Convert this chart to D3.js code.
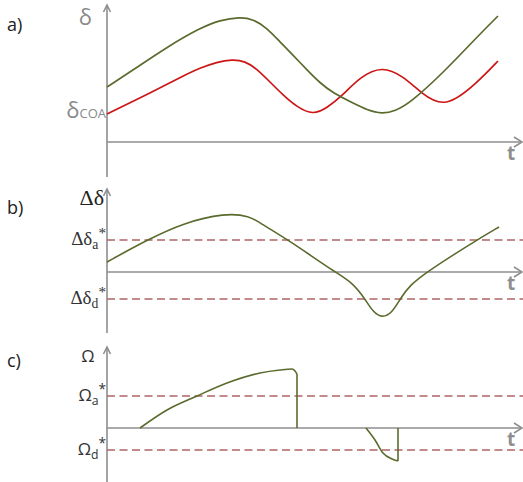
<!DOCTYPE html>
<html>
<head>
<meta charset="utf-8">
<script src="https://cdn.jsdelivr.net/npm/d3@7"></script>
<style>
  html, body { margin: 0; padding: 0; background: #fff; }
  svg { display: block; }
</style>
</head>
<body>
<svg id="chart" width="523" height="482"></svg>
<script>
// ---------------- DATA ----------------
// Panel a: delta(t)
const aGreenT = [0, 0.65, 1.5, 2.325, 2.825, 3.325, 3.65, 4.0, 4.325, 4.65, 5.0, 5.325, 5.65, 6.15, 6.5, 6.875, 7.2, 7.575, 8.4, 9.25, 9.775];
const aGreenV = [5.5, 7.2, 9.5, 11.4, 12.2, 12.5, 12.3, 11.4, 10.0, 8.7, 7.2, 5.9, 4.9, 3.9, 3.2, 2.8, 3.1, 3.9, 6.9, 10.5, 12.6];
const aRedT   = [0, 1.075, 1.9, 2.325, 2.75, 3.125, 3.45, 3.75, 4.075, 4.4, 4.75, 5.15, 5.5, 5.9, 6.325, 6.875, 7.4, 7.85, 8.45, 9.25, 9.775];
const aRedV   = [2.8, 4.9, 6.6, 7.4, 8.0, 8.25, 8.1, 7.3, 6.0, 4.7, 3.5, 2.7, 3.4, 4.7, 6.5, 7.6, 6.6, 4.9, 3.3, 5.9, 8.1];
// Panel b: delta difference
const bT = [0, 1.0, 1.9, 2.95, 3.575, 3.825, 4.525, 5.075, 5.7, 6.15, 6.45, 6.65, 6.875, 7.125, 7.325, 7.575, 8.0, 8.65, 9.25, 9.8];
const bV = [1.0, 3.2, 4.9, 5.9, 5.6, 4.9, 3.2, 1.7, 0, -1.1, -2.7, -4.0, -4.6, -4.1, -2.7, -1.3, 0, 1.7, 3.2, 4.5];
// Panel c: Omega, two pieces
const c1T = [0.825, 1.5, 2.25, 3.0, 3.825, 4.325, 4.625, 4.7, 4.75];
const c1V = [0, 1.8, 3.2, 4.5, 5.5, 5.8, 5.9, 5.7, 5.4];
const c1DropT = [4.75, 4.75];
const c1DropV = [5.4, 0];
const c2T = [6.475, 6.7, 6.9, 7.125, 7.275];
const c2V = [0, -1.2, -2.5, -3.1, -3.3];
const c2RiseT = [7.275, 7.275];
const c2RiseV = [-3.3, 0];
// thresholds
const bThresh = [3.2, -2.7];
const cThresh = [3.2, -2.2];
const aCOA = 2.9;
const aTop = 12.4;
// labels
const panelLabels = ["a)", "b)", "c)"];
const axisT = "t";

// ---------------- LAYOUT ----------------
const svg = d3.select("#chart");
const x = d3.scaleLinear().domain([0, 10]).range([107, 507]);
const xEnd = 523;
const axisColor = "#8e8e8e";
const green = "#5a6b2e";
const red = "#cc1616";
const dashColor = "#b06464";

const panels = [
  { zeroY: 142, topY: 5, bottomY: 177 },
  { zeroY: 272, topY: 189, bottomY: 333 },
  { zeroY: 428, topY: 347, bottomY: 482 }
];
const yScales = panels.map(p => d3.scaleLinear().domain([0, 10]).range([p.zeroY, p.zeroY - 100]));

const zip = (ts, vs) => ts.map((t, i) => [t, vs[i]]);
function lineFor(ys, curve) {
  return d3.line().x(d => x(d[0])).y(d => ys(d[1])).curve(curve);
}

// axes
panels.forEach((p, i) => {
  const g = svg.append("g");
  g.append("line").attr("x1", x(0)).attr("x2", x(0)).attr("y1", p.topY + 1).attr("y2", p.bottomY)
    .attr("stroke", axisColor).attr("stroke-width", 1.6);
  g.append("path")
    .attr("d", `M${x(0) - 3.5},${p.topY + 7} L${x(0)},${p.topY} L${x(0) + 3.5},${p.topY + 7}`)
    .attr("fill", "none").attr("stroke", axisColor).attr("stroke-width", 1.6);
  g.append("line").attr("x1", x(0)).attr("x2", xEnd - 1).attr("y1", p.zeroY).attr("y2", p.zeroY)
    .attr("stroke", axisColor).attr("stroke-width", 1.6);
  g.append("path")
    .attr("d", `M${xEnd - 9},${p.zeroY - 5} L${xEnd - 1},${p.zeroY} L${xEnd - 9},${p.zeroY + 5}`)
    .attr("fill", "none").attr("stroke", axisColor).attr("stroke-width", 1.6);
  g.append("text").attr("x", 511).attr("y", p.zeroY + 18).attr("text-anchor", "middle")
    .attr("font-family", "Open Sans, sans-serif").attr("font-weight", "bold")
    .attr("font-size", 19).attr("fill", axisColor).text(axisT);
  svg.append("text").attr("x", 7).attr("y", [31, 214, 367][i])
    .attr("font-family", "Open Sans, sans-serif").attr("font-size", 18).attr("fill", "#222")
    .text(panelLabels[i]);
});

// thresholds (dashed)
function dashed(ys, v) {
  svg.append("line").attr("x1", x(0)).attr("x2", xEnd).attr("y1", ys(v)).attr("y2", ys(v))
    .attr("stroke", dashColor).attr("stroke-width", 1.6).attr("stroke-dasharray", "8,4.5");
}
bThresh.forEach(v => dashed(yScales[1], v));
cThresh.forEach(v => dashed(yScales[2], v));

// curves
const smoothA = d3.curveBasis;
const smooth = d3.curveMonotoneX;
svg.append("path").datum(zip(aRedT, aRedV)).attr("d", lineFor(yScales[0], smoothA))
  .attr("fill", "none").attr("stroke", red).attr("stroke-width", 1.7);
svg.append("path").datum(zip(aGreenT, aGreenV)).attr("d", lineFor(yScales[0], smoothA))
  .attr("fill", "none").attr("stroke", green).attr("stroke-width", 1.7);
svg.append("path").datum(zip(bT, bV)).attr("d", lineFor(yScales[1], smoothA))
  .attr("fill", "none").attr("stroke", green).attr("stroke-width", 1.6);
[[c1T, c1V, smooth], [c1DropT, c1DropV, d3.curveLinear], [c2T, c2V, smooth], [c2RiseT, c2RiseV, d3.curveLinear]]
  .forEach(([ts, vs, cv]) => {
    svg.append("path").datum(zip(ts, vs)).attr("d", lineFor(yScales[2], cv))
      .attr("fill", "none").attr("stroke", green).attr("stroke-width", 1.6);
  });

// ---------------- TICK-LIKE LABELS ----------------
const sans = "Open Sans, sans-serif";
const serif = "Liberation Serif, serif";
svg.append("text").attr("x", 92).attr("y", yScales[0](aTop) + 7).attr("text-anchor", "end")
  .attr("font-family", sans).attr("font-size", 22).attr("fill", "#8a8a8a").text("δ");
{
  const t = svg.append("text").attr("x", 106).attr("y", yScales[0](aCOA) + 5).attr("text-anchor", "end")
    .attr("font-family", sans).attr("fill", "#8a8a8a");
  t.append("tspan").attr("font-size", 22).text("δ");
  t.append("tspan").attr("font-size", 13).text("COA");
}
svg.append("text").attr("x", 104).attr("y", 205).attr("text-anchor", "end")
  .attr("font-family", serif).attr("font-size", 22).attr("fill", "#222").text("Δδ");
function subLabel(ys, v, main, sub, family, size) {
  const t = svg.append("text").attr("x", 106).attr("y", ys(v) + 5).attr("text-anchor", "end")
    .attr("font-family", family).attr("fill", "#333");
  t.append("tspan").attr("font-size", size).text(main);
  t.append("tspan").attr("font-size", size * 0.72).attr("dy", 4).text(sub);
  t.append("tspan").attr("font-size", size * 0.8).attr("dy", -11).text("*");
}
subLabel(yScales[1], bThresh[0], "Δδ", "a", serif, 19);
subLabel(yScales[1], bThresh[1], "Δδ", "d", serif, 19);
svg.append("text").attr("x", 88).attr("y", 362).attr("text-anchor", "middle")
  .attr("font-family", sans).attr("font-size", 17).attr("fill", "#333").text("Ω");
subLabel(yScales[2], cThresh[0], "Ω", "a", sans, 17);
subLabel(yScales[2], cThresh[1], "Ω", "d", sans, 17);
</script>
</body>
</html>
